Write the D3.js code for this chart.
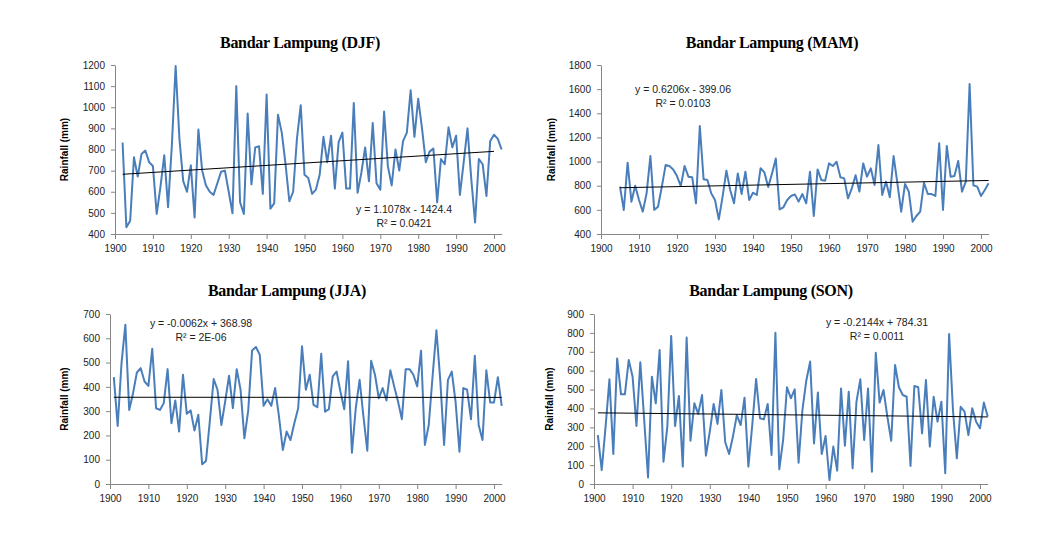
<!DOCTYPE html>
<html lang="en">
<head>
<meta charset="UTF-8">
<title>Bandar Lampung seasonal rainfall</title>
<script src="https://d3js.org/d3.v7.min.js"></script>
<style>
  html, body { margin: 0; padding: 0; background: #fff; }
  svg { display: block; }
  .title { font-family: "Liberation Serif", "Times New Roman", serif; font-weight: bold; font-size: 16px; letter-spacing: -0.3px; }
  .tick text { font-family: "Liberation Sans", Arial, sans-serif; font-size: 10px; fill: #222; }
  .ylab { font-family: "Liberation Sans", Arial, sans-serif; font-size: 10px; font-weight: bold; }
  .eq { font-family: "Liberation Sans", Arial, sans-serif; font-size: 10.5px; fill: #222; }
</style>
</head>
<body>
<svg id="chart" width="1044" height="538"></svg>
<script>
// seasonal rainfall totals (mm), one value per year
const djfStart = 1902;
const djfValues = [833,432,463,763,672,779,795,740,722,495,
  624,773,527,820,1195,850,650,600,725,478,
  895,700,630,600,585,640,695,700,600,498,
  1100,550,495,970,635,810,815,590,1060,520,
  545,965,880,730,555,600,850,1010,680,665,
  590,610,680,860,740,865,615,835,880,615,
  615,1020,595,690,810,650,925,640,610,980,
  720,630,800,700,840,880,1080,860,1040,900,
  740,790,805,550,755,730,905,810,865,585,
  740,900,660,455,755,730,580,840,870,850,
  800];

const mamStart = 1905;
const mamValues = [792,599,991,668,800,682,585,737,1046,600,
  626,790,971,963,935,880,797,963,875,870,
  654,1295,853,847,737,682,521,709,925,764,
  654,902,731,916,682,742,723,945,910,790,
  900,1025,604,621,682,715,728,668,731,654,
  916,549,935,847,842,985,963,999,870,861,
  695,778,886,751,985,875,944,806,1137,723,
  834,704,1046,820,585,814,751,502,549,585,
  825,731,731,715,1151,599,1129,875,880,1005,
  751,834,1643,803,792,715,764,820];

const jjaStart = 1901;
const jjaValues = [440,239,498,656,305,374,459,477,422,404,
  557,312,305,333,473,250,344,216,450,289,
  303,220,285,81,95,260,432,388,243,340,
  446,312,473,388,188,303,550,564,532,322,
  349,322,395,278,140,216,181,250,312,567,
  388,450,326,316,536,298,308,443,463,381,
  308,505,129,312,429,278,137,507,450,353,
  395,344,468,402,340,267,473,473,450,402,
  549,161,243,443,633,429,161,429,463,336,
  133,395,388,267,528,243,181,468,336,336,
  440,322];

const sonStart = 1901;
const sonValues = [259,74,304,554,159,665,475,475,656,568,
  307,644,340,35,568,427,709,118,304,784,
  307,466,92,775,229,427,371,471,150,277,
  424,318,498,221,159,251,365,312,457,92,
  312,556,348,342,424,154,801,78,233,512,
  454,501,113,392,547,648,215,484,159,254,
  21,198,71,506,203,489,83,436,554,233,
  506,65,695,431,498,357,229,630,512,471,
  462,95,519,512,268,551,198,462,330,436,
  57,794,392,136,409,383,259,401,330,295,
  431,357];

// linear trend lines: [slope, intercept], drawn between the given years
const djfTrend = [1.1078, -1424.4], djfTrendYears = [1902, 2000];
const mamTrend = [0.6206, -399.06], mamTrendYears = [1905, 2002];
const jjaTrend = [-0.0062, 368.98], jjaTrendYears = [1901, 2002];
const sonTrend = [-0.2144, 784.31], sonTrendYears = [1901, 2002];

const djfEq = ["y = 1.1078x - 1424.4", "R² = 0.0421"];
const mamEq = ["y = 0.6206x - 399.06", "R² = 0.0103"];
const jjaEq = ["y = -0.0062x + 368.98", "R² = 2E-06"];
const sonEq = ["y = -0.2144x + 784.31", "R² = 0.0011"];

// tick labels
const xTicks = [1900, 1910, 1920, 1930, 1940, 1950, 1960, 1970, 1980, 1990, 2000];
const djfTicks = [400, 500, 600, 700, 800, 900, 1000, 1100, 1200];
const mamTicks = [400, 600, 800, 1000, 1200, 1400, 1600, 1800];
const jjaTicks = [0, 100, 200, 300, 400, 500, 600, 700];
const sonTicks = [0, 100, 200, 300, 400, 500, 600, 700, 800, 900];

const panels = [
  { title: "Bandar Lampung (DJF)", start: djfStart, values: djfValues, trend: djfTrend, trendYears: djfTrendYears,
    eq: djfEq, yTicks: djfTicks, x0: 115, x1: 501.6, y0: 234, y1: 65, titleX: 300, titleY: 48, eqX: 404, eqY: 210, labX: 65 },
  { title: "Bandar Lampung (MAM)", start: mamStart, values: mamValues, trend: mamTrend, trendYears: mamTrendYears,
    eq: mamEq, yTicks: mamTicks, x0: 601, x1: 988.6, y0: 234, y1: 65, titleX: 772, titleY: 48, eqX: 683, eqY: 90, labX: 552 },
  { title: "Bandar Lampung (JJA)", start: jjaStart, values: jjaValues, trend: jjaTrend, trendYears: jjaTrendYears,
    eq: jjaEq, yTicks: jjaTicks, x0: 110, x1: 501.7, y0: 484, y1: 314, titleX: 287, titleY: 296, eqX: 201, eqY: 324, labX: 65 },
  { title: "Bandar Lampung (SON)", start: sonStart, values: sonValues, trend: sonTrend, trendYears: sonTrendYears,
    eq: sonEq, yTicks: sonTicks, x0: 594, x1: 987.7, y0: 484, y1: 314, titleX: 771, titleY: 296, eqX: 877, eqY: 323, labX: 550 }
];

const svg = d3.select("#chart");
const axisColor = "#868686";

panels.forEach(p => {
  const x = d3.scaleLinear().domain([1900, 2002]).range([p.x0, p.x1]);
  const y = d3.scaleLinear().domain(d3.extent(p.yTicks)).range([p.y0, p.y1]);
  const g = svg.append("g");

  g.append("text").attr("class", "title")
    .attr("x", p.titleX).attr("y", p.titleY).attr("text-anchor", "middle").text(p.title);

  const xa = g.append("g").attr("transform", `translate(0,${p.y0})`)
    .call(d3.axisBottom(x).tickValues(xTicks).tickFormat(d3.format("d")).tickSize(5).tickSizeOuter(0).tickPadding(6));
  const ya = g.append("g").attr("transform", `translate(${p.x0},0)`)
    .call(d3.axisLeft(y).tickValues(p.yTicks).tickFormat(d3.format("d")).tickSize(4).tickSizeOuter(0).tickPadding(6));
  [xa, ya].forEach(a => {
    a.select(".domain").attr("stroke", axisColor);
    a.selectAll(".tick line").attr("stroke", axisColor);
  });

  g.append("text").attr("class", "ylab")
    .attr("transform", `translate(${p.labX},${(p.y0 + p.y1) / 2}) rotate(-90)`)
    .attr("text-anchor", "middle").attr("dominant-baseline", "middle")
    .text("Rainfall (mm)");

  const pts = p.values.map((v, i) => [p.start + i, v]);
  g.append("path").datum(pts)
    .attr("fill", "none").attr("stroke", "#4a7ebb").attr("stroke-width", 2)
    .attr("stroke-linejoin", "round")
    .attr("d", d3.line().x(d => x(d[0])).y(d => y(d[1])));

  const tr = p.trendYears.map(yr => [yr, p.trend[0] * yr + p.trend[1]]);
  g.append("path").datum(tr)
    .attr("fill", "none").attr("stroke", "#000").attr("stroke-width", 1)
    .attr("d", d3.line().x(d => x(d[0])).y(d => y(d[1])));

  g.selectAll("text.eq").data(p.eq).join("text").attr("class", "eq")
    .attr("x", p.eqX).attr("y", (d, i) => p.eqY + i * 14)
    .attr("text-anchor", "middle").attr("dominant-baseline", "middle")
    .text(d => d);
});
</script>
</body>
</html>
